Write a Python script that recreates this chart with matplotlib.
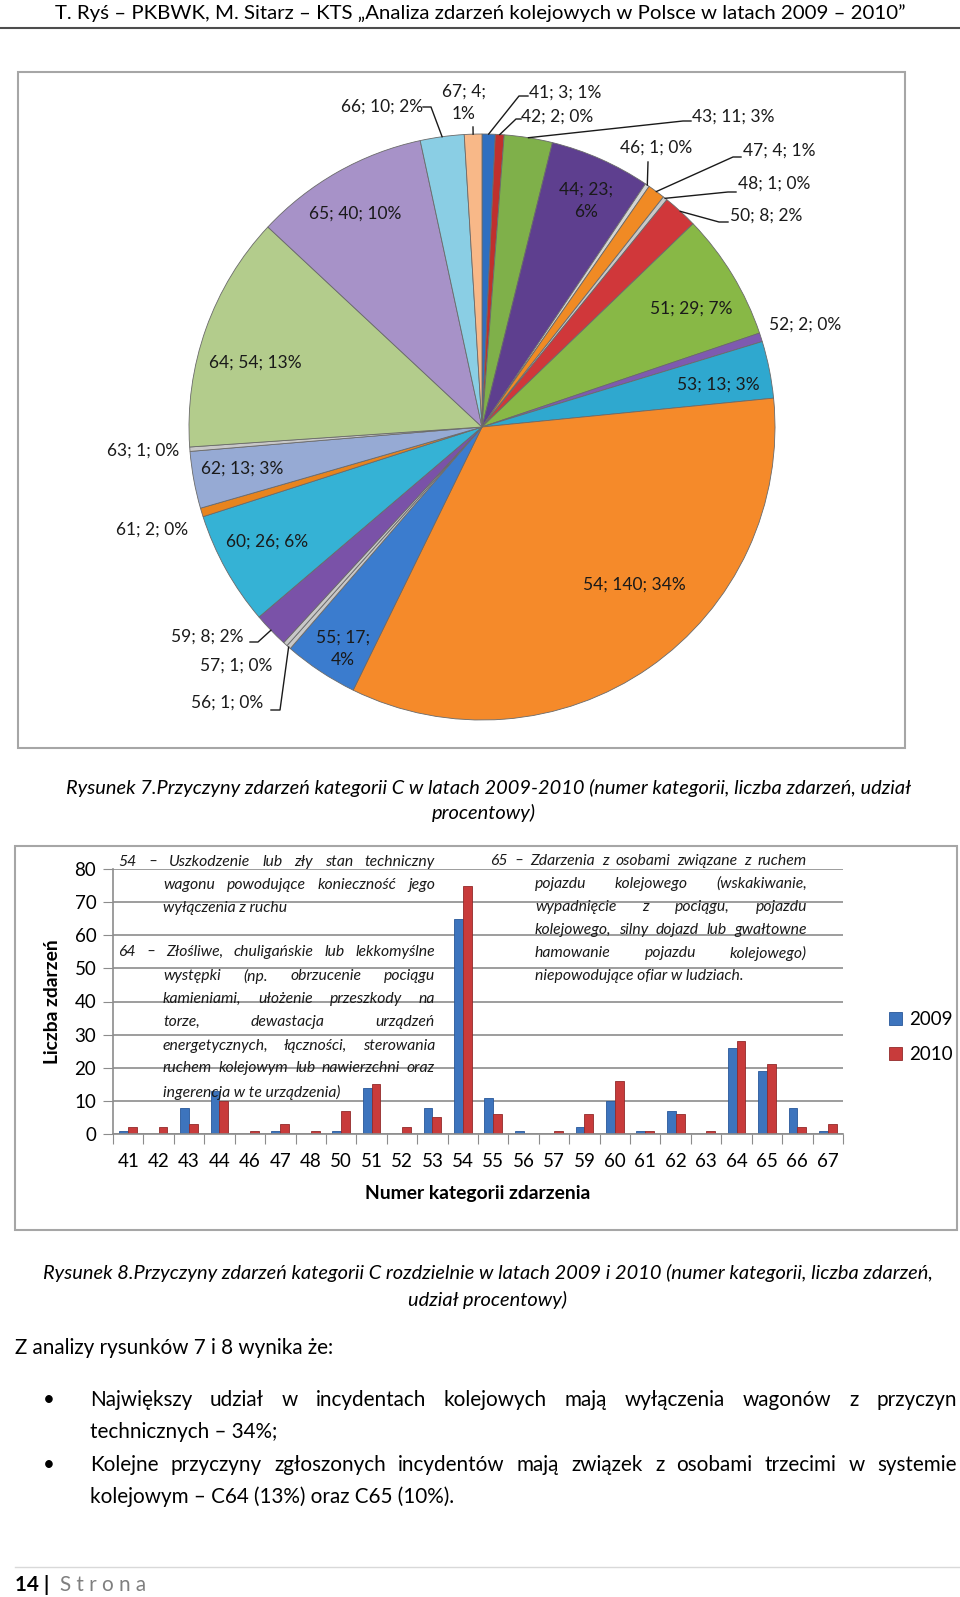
import numpy as np
import matplotlib.pyplot as plt
from matplotlib.patches import Rectangle

plt.rcParams['font.family'] = ['Lato', 'DejaVu Sans']

W, H = 960, 1597

# numer kategorii i liczba zdarzen w latach 2009 / 2010
cats = [41, 42, 43, 44, 46, 47, 48, 50, 51, 52, 53, 54,
        55, 56, 57, 59, 60, 61, 62, 63, 64, 65, 66, 67]
v2009 = [1, 0, 8, 13, 0, 1, 0, 1, 14, 0, 8, 65,
         11, 1, 0, 2, 10, 1, 7, 0, 26, 19, 8, 1]
v2010 = [2, 2, 3, 10, 1, 3, 1, 7, 15, 2, 5, 75,
         6, 0, 1, 6, 16, 1, 6, 1, 28, 21, 2, 3]
years = ['2009', '2010']

pie_colors = ['#2f6fc0', '#c0302d', '#7fb04a', '#5e3f8f', '#d4d4d4', '#f08a24',
              '#c8c8c8', '#d0373a', '#88b846', '#7e5ab0', '#2fa8cf', '#f58a2a',
              '#3b7cce', '#c8c8c8', '#c8c8c8', '#7a52a8', '#35b2d5', '#e8841e',
              '#96aad4', '#c8c8c8', '#b3cc8c', '#a792c8', '#8acee4', '#f8b888']
bar_colors = ['#3d74bd', '#c83b3b']
bar_edges = ['#29589a', '#922a2a']

# polozenie etykiet kola (piksele od lewego gornego rogu)
label_pos = {41: (529, 93, 'left'), 42: (521, 117, 'left'), 43: (692, 117, 'left'),
             44: (586, 201, 'center'), 46: (656, 148, 'center'), 47: (743, 151, 'left'),
             48: (738, 184, 'left'), 50: (730, 216, 'left'), 51: (691, 309, 'center'),
             52: (805, 325, 'center'), 53: (718, 385, 'center'), 54: (634, 585, 'center'),
             55: (343, 649, 'center'), 56: (227, 703, 'center'), 57: (236, 666, 'center'),
             59: (207, 637, 'center'), 60: (267, 542, 'center'), 61: (152, 530, 'center'),
             62: (242, 469, 'center'), 63: (143, 451, 'center'), 64: (255, 363, 'center'),
             65: (355, 214, 'center'), 66: (382, 107, 'center'), 67: (464, 103, 'center')}
wrapped = [44, 55, 67]
# linie odniesienia: punkty od strony etykiety, koniec na brzegu wycinka
leaders = {66: [(423, 107), (431, 107)], 67: [(473, 127)],
           41: [(528, 96), (519, 96)], 42: [(521, 119), (516, 119)],
           43: [(691, 121), (683, 121)], 46: [(648, 162)],
           47: [(741, 157), (733, 157)], 48: [(736, 192), (728, 192)],
           50: [(728, 222), (719, 222)], 59: [(250, 642), (258, 642)],
           56: [(271, 710), (280, 710)]}

note54 = ['54 – Uszkodzenie lub zły stan techniczny',
          'wagonu powodujące konieczność jego',
          'wyłączenia z ruchu']
note64 = ['64 – Złośliwe, chuligańskie lub lekkomyślne',
          'występki (np. obrzucenie pociągu',
          'kamieniami, ułożenie przeszkody na',
          'torze, dewastacja urządzeń',
          'energetycznych, łączności, sterowania',
          'ruchem kolejowym lub nawierzchni oraz',
          'ingerencja w te urządzenia)']
note65 = ['65 – Zdarzenia z osobami związane z ruchem',
          'pojazdu kolejowego (wskakiwanie,',
          'wypadnięcie z pociągu, pojazdu',
          'kolejowego, silny dojazd lub gwałtowne',
          'hamowanie pojazdu kolejowego)',
          'niepowodujące ofiar w ludziach.']

fig = plt.figure(figsize=(W / 100, H / 100), dpi=100)
renderer = fig.canvas.get_renderer()


def put(x, y, s, size, ha='left', va='center', **kw):
    return fig.text(x / W, 1 - y / H, s, fontsize=size, ha=ha, va=va, **kw)


def fit(t, width):
    w = t.get_window_extent(renderer).width
    t.set_fontsize(t.get_fontsize() * width / w)
    return t.get_fontsize()


def justify(x0, x1, y, line, size, **kw):
    words = [put(x0, y, w, size, **kw) for w in line.split()]
    widths = [t.get_window_extent(renderer).width for t in words]
    gap = (x1 - x0 - sum(widths)) / (len(words) - 1)
    x = x0
    for t, w in zip(words, widths):
        t.set_x(x / W)
        x += w + gap


# strona - tlo, kolo, ramki
ax = fig.add_axes([0, 0, 1, 1])
totals = [a + b for a, b in zip(v2009, v2010)]
total = sum(totals)
cx, cy, R = 482, 427, 293
wedges, _ = ax.pie(totals, colors=pie_colors, startangle=90, counterclock=False,
                   center=(cx, H - cy), radius=R,
                   wedgeprops=dict(edgecolor='#6a6a6a', linewidth=0.6))
ax.set_aspect('auto')
ax.set_xlim(0, W)
ax.set_ylim(0, H)
ax.axis('off')

for c, n, wdg in zip(cats, totals, wedges):
    s = f'{c}; {n}; {round(100 * n / total)}%'
    if c in wrapped:
        s = f'{c}; {n};\n{round(100 * n / total)}%'
    x, y, ha = label_pos[c]
    put(x, y, s, 12.5, ha=ha, color='#1a1a1a', linespacing=1.45)
    if c in leaders:
        ang = np.deg2rad((wdg.theta1 + wdg.theta2) / 2)
        pts = leaders[c] + [(cx + R * np.cos(ang), cy - R * np.sin(ang))]
        ax.plot([p[0] for p in pts], [H - p[1] for p in pts], color='#1a1a1a', lw=1)

ax.add_patch(Rectangle((18, H - 748), 887, 676, fill=False, ec='#a6a6a6', lw=1.5))
ax.add_patch(Rectangle((15, H - 1230), 942, 384, fill=False, ec='#a6a6a6', lw=1.5))
ax.plot([0, W], [H - 28, H - 28], color='#4d4d4d', lw=1.5)
ax.plot([15, W], [H - 1567, H - 1567], color='#d9d9d9', lw=1)

# wykres slupkowy
axb = fig.add_axes([113 / W, 1 - 1134 / H, (843 - 113) / W, (1134 - 869) / H])
x = np.arange(len(cats))
b1 = axb.bar(x - 0.145, v2009, 0.29, color=bar_colors[0], edgecolor=bar_edges[0], lw=0.6)
b2 = axb.bar(x + 0.145, v2010, 0.29, color=bar_colors[1], edgecolor=bar_edges[1], lw=0.6)
axb.set_xlim(-0.5, len(cats) - 0.5)
axb.set_ylim(0, 80)
axb.set_yticks(range(0, 81, 10))
axb.set_xticks(np.arange(len(cats) + 1) - 0.5)
axb.set_xticklabels([])
axb.set_xticks(x, minor=True)
axb.set_xticklabels([str(c) for c in cats], minor=True)
axb.tick_params(axis='x', which='major', length=7, color='#8c8c8c')
axb.tick_params(axis='x', which='minor', length=0, labelsize=13.5, pad=14)
axb.tick_params(axis='y', length=7, color='#8c8c8c', labelsize=13.5, pad=5)
axb.yaxis.grid(True, color='#8c8c8c', lw=1.2)
axb.set_axisbelow(True)
axb.patch.set_alpha(0)
for side in ['top', 'right']:
    axb.spines[side].set_visible(False)
for side in ['left', 'bottom']:
    axb.spines[side].set_color('#8c8c8c')
    axb.spines[side].set_linewidth(1.2)

fig.legend([b1, b2], years, loc='center left', bbox_to_anchor=(872 / W, 1 - 1037 / H),
           frameon=False, fontsize=13.5, handlelength=0.7, handleheight=0.7,
           handletextpad=0.4, labelspacing=1.0)

xl = put(478, 1193, 'Numer kategorii zdarzenia', 13, ha='center', fontweight='bold')
sz = fit(xl, 226)
put(53, 1002, 'Liczba zdarzeń', sz, ha='center', rotation=90, fontweight='bold')

# opisy kategorii na wykresie
t = put(163, 908, note54[-1], 10.5, style='italic', color='#1a1a1a')
fs = fit(t, 125)
t.remove()
ys = [862, 885, 908]
for i, line in enumerate(note54):
    if i == len(note54) - 1:
        put(163, ys[i], line, fs, style='italic', color='#1a1a1a')
    else:
        justify(118 if i == 0 else 163, 435, ys[i], line, fs, style='italic', color='#1a1a1a')
ys = [952, 976, 999, 1022, 1046, 1068, 1092]
for i, line in enumerate(note64):
    if i == len(note64) - 1:
        put(163, ys[i], line, fs, style='italic', color='#1a1a1a')
    else:
        justify(118 if i == 0 else 163, 435, ys[i], line, fs, style='italic', color='#1a1a1a')
ys = [861, 884, 907, 930, 953, 976]
for i, line in enumerate(note65):
    if i == len(note65) - 1:
        put(535, ys[i], line, fs, style='italic', color='#1a1a1a')
    else:
        justify(490 if i == 0 else 535, 807, ys[i], line, fs, style='italic', color='#1a1a1a')

# tekst strony
t = put(55, 13, 'T. Ryś – PKBWK, M. Sitarz – KTS „Analiza zdarzeń kolejowych w Polsce w latach 2009 – 2010”', 14)
fit(t, 851)

t = put(66, 788, 'Rysunek 7.Przyczyny zdarzeń kategorii C w latach 2009-2010 (numer kategorii, liczba zdarzeń, udział',
        12, style='italic')
cs = fit(t, 839)
put(484, 813, 'procentowy)', cs, ha='center', style='italic')

t = put(43, 1273, 'Rysunek 8.Przyczyny zdarzeń kategorii C rozdzielnie w latach 2009 i 2010 (numer kategorii, liczba zdarzeń,',
        12, style='italic')
fit(t, 885)
put(487, 1300, 'udział procentowy)', cs, ha='center', style='italic')

t = put(90, 1432, 'technicznych – 34%;', 14)
bs = fit(t, 188)
put(15, 1348, 'Z analizy rysunków 7 i 8 wynika że:', bs)
put(49, 1400, '•', bs, ha='center')
justify(90, 957, 1400, 'Największy udział w incydentach kolejowych mają wyłączenia wagonów z przyczyn', bs)
put(49, 1465, '•', bs, ha='center')
justify(90, 957, 1465, 'Kolejne przyczyny zgłoszonych incydentów mają związek z osobami trzecimi w systemie', bs)
put(90, 1497, 'kolejowym – C64 (13%) oraz C65 (10%).', bs)

put(15, 1585, '14 |', bs, fontweight='bold')
put(60, 1585, 'S t r o n a', bs, color='#7f7f7f')

fig.savefig('out.png', dpi=100)
